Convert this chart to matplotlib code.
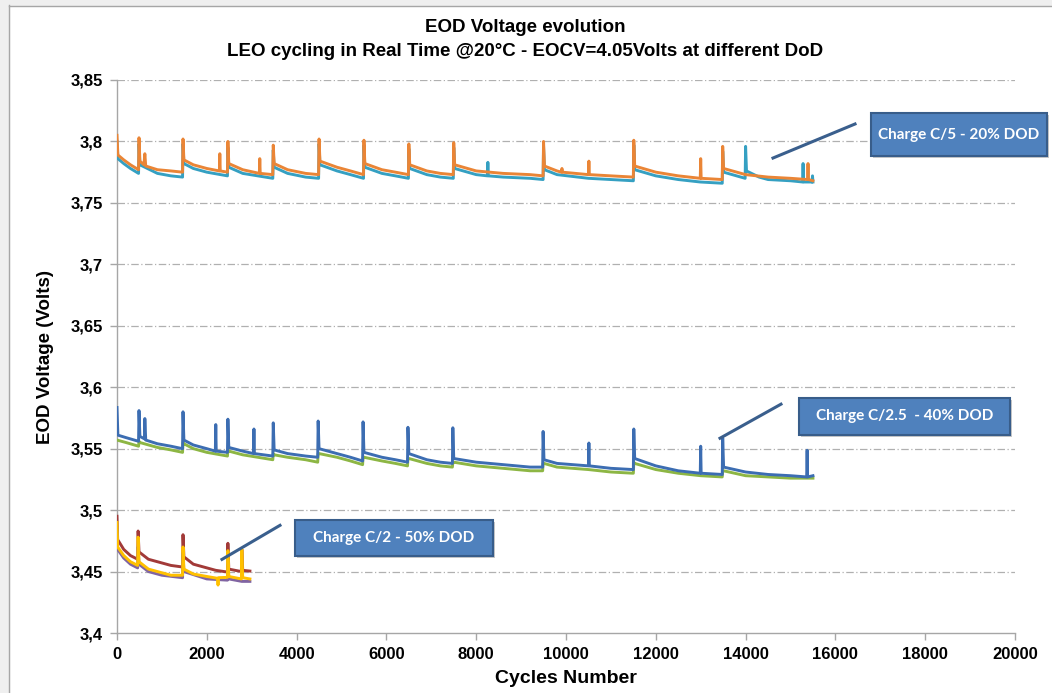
import matplotlib
matplotlib.use("Agg")
import matplotlib.pyplot as plt
from matplotlib.patches import Rectangle
from matplotlib.lines import Line2D

plt.rcParams['font.family'] = ['Liberation Sans', 'DejaVu Sans']

# ---- data (cycles, EOD voltage) ----
# 20% DOD, C/5 charge
orange_x = [0, 20, 150, 300, 480, 490, 510, 600, 620, 640, 900, 1200, 1460,
            1470, 1490, 1700, 2000, 2280, 2290, 2300, 2460,
            2470, 2490, 2800, 3170, 3180, 3190, 3470,
            3480, 3500, 3800, 4200, 4490, 4500, 4520, 4900, 5200, 5490,
            5500, 5520, 5900, 6200, 6490, 6500, 6520, 6900, 7200, 7490,
            7500, 7520, 8000, 8600, 9200, 9490,
            9500, 9520, 9800, 9900, 9910, 9920, 10500, 10510, 10520, 11000, 11500,
            11510, 11530, 12000, 12500, 12990, 13000, 13010, 13480,
            13490, 13510, 14000, 14500, 15000, 15380, 15390, 15400, 15500]
orange_y = [3.805, 3.789, 3.785, 3.781, 3.777, 3.803, 3.784, 3.781, 3.790, 3.780, 3.777, 3.776, 3.775,
            3.802, 3.785, 3.781, 3.778, 3.776, 3.790, 3.776, 3.775,
            3.800, 3.782, 3.777, 3.774, 3.786, 3.774, 3.773,
            3.797, 3.782, 3.777, 3.774, 3.773, 3.802, 3.784, 3.779, 3.776, 3.773,
            3.801, 3.782, 3.777, 3.775, 3.773, 3.798, 3.781, 3.776, 3.774, 3.773,
            3.799, 3.781, 3.776, 3.774, 3.773, 3.772,
            3.800, 3.780, 3.776, 3.775, 3.778, 3.775, 3.773, 3.784, 3.773, 3.772, 3.771,
            3.801, 3.780, 3.775, 3.772, 3.770, 3.786, 3.770, 3.769,
            3.796, 3.778, 3.773, 3.771, 3.770, 3.769, 3.782, 3.769, 3.768]

teal_x = [0, 20, 150, 300, 480, 490, 510, 900, 1200, 1460,
          1470, 1490, 1700, 2000, 2460, 2470, 2490, 2800, 3470,
          3480, 3500, 3800, 4200, 4490, 4500, 4520, 4900, 5200, 5490,
          5500, 5520, 5900, 6200, 6490, 6500, 6520, 6900, 7200, 7490,
          7500, 7520, 8000, 8250, 8260, 8270, 8600, 9200, 9490,
          9500, 9520, 9800, 10500, 11000, 11500,
          11510, 11530, 12000, 12500, 12990, 13480,
          13490, 13510, 13990, 14000, 14020, 14300, 14500, 15000,
          15270, 15280, 15290, 15480, 15490, 15500]
teal_y = [3.800, 3.786, 3.782, 3.778, 3.774, 3.798, 3.781, 3.774, 3.772, 3.771,
          3.798, 3.782, 3.778, 3.775, 3.772, 3.795, 3.779, 3.774, 3.770,
          3.793, 3.779, 3.774, 3.771, 3.770, 3.798, 3.781, 3.776, 3.773, 3.770,
          3.797, 3.779, 3.774, 3.772, 3.770, 3.794, 3.778, 3.773, 3.771, 3.770,
          3.795, 3.778, 3.773, 3.772, 3.783, 3.772, 3.771, 3.770, 3.769,
          3.796, 3.777, 3.773, 3.770, 3.769, 3.768,
          3.797, 3.777, 3.772, 3.769, 3.767, 3.766,
          3.792, 3.775, 3.770, 3.796, 3.776, 3.771, 3.769, 3.768,
          3.767, 3.782, 3.767, 3.767, 3.772, 3.767]

# 40% DOD, C/2.5 charge
blue_x = [0, 20, 200, 480, 490, 510, 610, 620, 640, 900, 1200, 1460,
          1470, 1490, 1700, 2000, 2190, 2200, 2210, 2460,
          2470, 2490, 2800, 3040, 3050, 3060, 3470,
          3480, 3500, 3800, 4200, 4470, 4480, 4500, 4900, 5200, 5470,
          5480, 5500, 5900, 6200, 6470, 6480, 6500, 6900, 7200, 7470,
          7480, 7500, 8000, 8600, 9200, 9480,
          9490, 9510, 9800, 10500, 10510, 10520, 11000, 11500,
          11510, 11530, 12000, 12500, 12990, 13000, 13010, 13480,
          13490, 13510, 14000, 14500, 15000, 15360, 15370, 15380, 15500]
blue_y = [3.5835, 3.561, 3.559, 3.556, 3.581, 3.560, 3.558, 3.5745, 3.557, 3.554, 3.552, 3.550,
          3.580, 3.557, 3.553, 3.550, 3.548, 3.5696, 3.548, 3.547,
          3.574, 3.551, 3.548, 3.546, 3.566, 3.546, 3.544,
          3.571, 3.549, 3.546, 3.544, 3.543, 3.5725, 3.550, 3.546, 3.543, 3.540,
          3.5718, 3.547, 3.543, 3.541, 3.539, 3.5674, 3.546, 3.541, 3.539, 3.538,
          3.567, 3.542, 3.539, 3.537, 3.535, 3.535,
          3.564, 3.541, 3.538, 3.536, 3.5546, 3.536, 3.534, 3.533,
          3.566, 3.542, 3.536, 3.532, 3.530, 3.552, 3.530, 3.529,
          3.5587, 3.535, 3.531, 3.529, 3.528, 3.527, 3.5487, 3.527, 3.528]

green_x = [0, 200, 480, 490, 510, 900, 1200, 1460,
           1470, 1490, 1700, 2000, 2460, 2470, 2490, 2800, 3470,
           3480, 3500, 3800, 4200, 4470, 4480, 4500, 4900, 5200, 5470,
           5480, 5500, 5900, 6200, 6470, 6480, 6500, 6900, 7200, 7470,
           7480, 7500, 8000, 8600, 9200, 9480,
           9490, 9510, 9800, 10500, 11000, 11500,
           11510, 11530, 12000, 12500, 13000, 13480,
           13490, 13510, 14000, 14500, 15000, 15500]
green_y = [3.557, 3.555, 3.552, 3.556, 3.555, 3.551, 3.549, 3.547,
           3.555, 3.554, 3.550, 3.547, 3.544, 3.549, 3.548, 3.545, 3.541,
           3.546, 3.545, 3.543, 3.541, 3.539, 3.546, 3.546, 3.543, 3.540, 3.537,
           3.543, 3.543, 3.540, 3.538, 3.536, 3.542, 3.542, 3.538, 3.536, 3.535,
           3.539, 3.539, 3.536, 3.534, 3.532, 3.532,
           3.538, 3.538, 3.535, 3.533, 3.531, 3.530,
           3.539, 3.538, 3.533, 3.530, 3.528, 3.527,
           3.532, 3.532, 3.528, 3.527, 3.526, 3.526]

# 50% DOD, C/2 charge
red_x = [0, 15, 150, 300, 460, 470, 490, 700, 1000, 1200, 1460,
         1470, 1490, 1700, 2000, 2200, 2460, 2470, 2490, 2770, 2780, 2800, 2960]
red_y = [3.495, 3.476, 3.468, 3.463, 3.460, 3.483, 3.466, 3.460, 3.457, 3.455, 3.4537,
         3.480, 3.462, 3.456, 3.453, 3.451, 3.4496, 3.473, 3.452, 3.450, 3.468, 3.451, 3.4504]

purple_x = [0, 15, 150, 300, 460, 470, 490, 700, 1000, 1460,
            1470, 1490, 2000, 2460, 2470, 2490, 2780, 2960]
purple_y = [3.485, 3.468, 3.461, 3.456, 3.453, 3.470, 3.456, 3.450, 3.447, 3.445,
            3.465, 3.450, 3.444, 3.443, 3.460, 3.444, 3.442, 3.442]

yellow_x = [0, 15, 150, 300, 460, 470, 490, 700, 1000, 1200, 1460,
            1470, 1490, 1700, 2000, 2240, 2250, 2260, 2460,
            2470, 2490, 2770, 2780, 2800, 2960]
yellow_y = [3.490, 3.470, 3.463, 3.458, 3.455, 3.478, 3.458, 3.452, 3.449, 3.447, 3.447,
            3.470, 3.452, 3.448, 3.446, 3.4445, 3.439, 3.445, 3.4453,
            3.467, 3.446, 3.444, 3.468, 3.445, 3.444]

x_ticks = [0, 2000, 4000, 6000, 8000, 10000, 12000, 14000, 16000, 18000, 20000]
y_ticks = [3.4, 3.45, 3.5, 3.55, 3.6, 3.65, 3.7, 3.75, 3.8, 3.85]
y_ticklabels = ['3,4', '3,45', '3,5', '3,55', '3,6', '3,65', '3,7', '3,75', '3,8', '3,85']

box_texts = ['Charge C/5 - 20% DOD', 'Charge C/2.5  - 40% DOD', 'Charge C/2 - 50% DOD']

# ---- figure ----
W, H = 1052, 693
fig = plt.figure(figsize=(W / 100, H / 100), dpi=100)
fig.patch.set_facecolor('white')

# screenshot frame: grey strip at left / top
fig.patches.append(Rectangle((0, 0), 9 / W, 1, transform=fig.transFigure, color='#efefef', zorder=0))
fig.patches.append(Rectangle((0, 1 - 5 / H), 1, 5 / H, transform=fig.transFigure, color='#efefef', zorder=0))
fig.lines.append(Line2D([9.5 / W, 9.5 / W], [0, 1 - 5 / H], transform=fig.transFigure, color='#a6a6a6', lw=1))
fig.lines.append(Line2D([9.5 / W, 1], [1 - 5.5 / H, 1 - 5.5 / H], transform=fig.transFigure, color='#a6a6a6', lw=1))

ax = fig.add_axes([117 / W, 60 / H, 898 / W, 553 / H])

lw = 2.1
ax.plot(teal_x, teal_y, color='#35a0c2', lw=lw, zorder=3)
ax.plot(orange_x, orange_y, color='#ea8536', lw=lw, zorder=4)
ax.plot(green_x, green_y, color='#8db644', lw=lw, zorder=3)
ax.plot(blue_x, blue_y, color='#3c6db2', lw=lw, zorder=4)
ax.plot(red_x, red_y, color='#a23a38', lw=lw, zorder=3)
ax.plot(purple_x, purple_y, color='#8064a2', lw=lw, zorder=4)
ax.plot(yellow_x, yellow_y, color='#ffc000', lw=lw, zorder=5)

ax.set_xlim(0, 20000)
ax.set_ylim(3.4, 3.85)
ax.set_xticks(x_ticks)
ax.set_xticklabels([str(t) for t in x_ticks])
ax.set_yticks(y_ticks)
ax.set_yticklabels(y_ticklabels)

for s in ['top', 'right']:
    ax.spines[s].set_visible(False)
for s in ['left', 'bottom']:
    ax.spines[s].set_color('#a6a6a6')
    ax.spines[s].set_linewidth(1)
ax.tick_params(axis='both', colors='#a6a6a6', length=5, width=1, labelcolor='black', labelsize=12, pad=5)
for lab in ax.get_xticklabels() + ax.get_yticklabels():
    lab.set_fontweight('bold')

for yv in y_ticks[1:]:
    ax.axhline(yv, color='#b0b0b0', lw=0.9, ls=(0, (6, 2, 1, 2)), zorder=1)

ax.set_xlabel('Cycles Number', fontsize=14, fontweight='bold', labelpad=6)
ax.set_ylabel('EOD Voltage (Volts)', fontsize=13.5, fontweight='bold', labelpad=12)

fig.text(525 / W, 1 - 28 / H, 'EOD Voltage evolution', ha='center', va='center',
         fontsize=13.5, fontweight='bold')
fig.text(525 / W, 1 - 52 / H,
         'LEO cycling in Real Time @20°C - EOCV=4.05Volts at different DoD',
         ha='center', va='center', fontsize=13.5, fontweight='bold')

# ---- callouts ----
line_col = '#3a5f8d'
ax.plot([14610, 16437], [3.7865, 3.8142], color=line_col, lw=2.2, clip_on=False, zorder=6)
ax.plot([13430, 14788], [3.5585, 3.5862], color=line_col, lw=2.2, clip_on=False, zorder=6)
ax.plot([2338, 3630], [3.4599, 3.4876], color=line_col, lw=2.2, clip_on=False, zorder=6)

boxes_px = [(871, 113, 1047, 156), (799, 398, 1010, 435), (295, 520, 493, 556)]
for (x0, y0, x1, y1), txt in zip(boxes_px, box_texts):
    fx, fy = x0 / W, 1 - y1 / H
    fw, fh = (x1 - x0) / W, (y1 - y0) / H
    fig.patches.append(Rectangle((fx + 2 / W, fy - 2 / H), fw, fh, transform=fig.transFigure,
                                 facecolor='#c8c8c8', edgecolor='none', zorder=7))
    fig.patches.append(Rectangle((fx, fy), fw, fh, transform=fig.transFigure,
                                 facecolor='#4f81bd', edgecolor='#385d8a', lw=1.5, zorder=8))
    fig.text(fx + fw / 2, fy + fh / 2, txt, ha='center', va='center', color='white',
             fontsize=11, fontweight='bold', family=['Lato', 'DejaVu Sans'], zorder=9)

fig.savefig('out.png', dpi=100)
